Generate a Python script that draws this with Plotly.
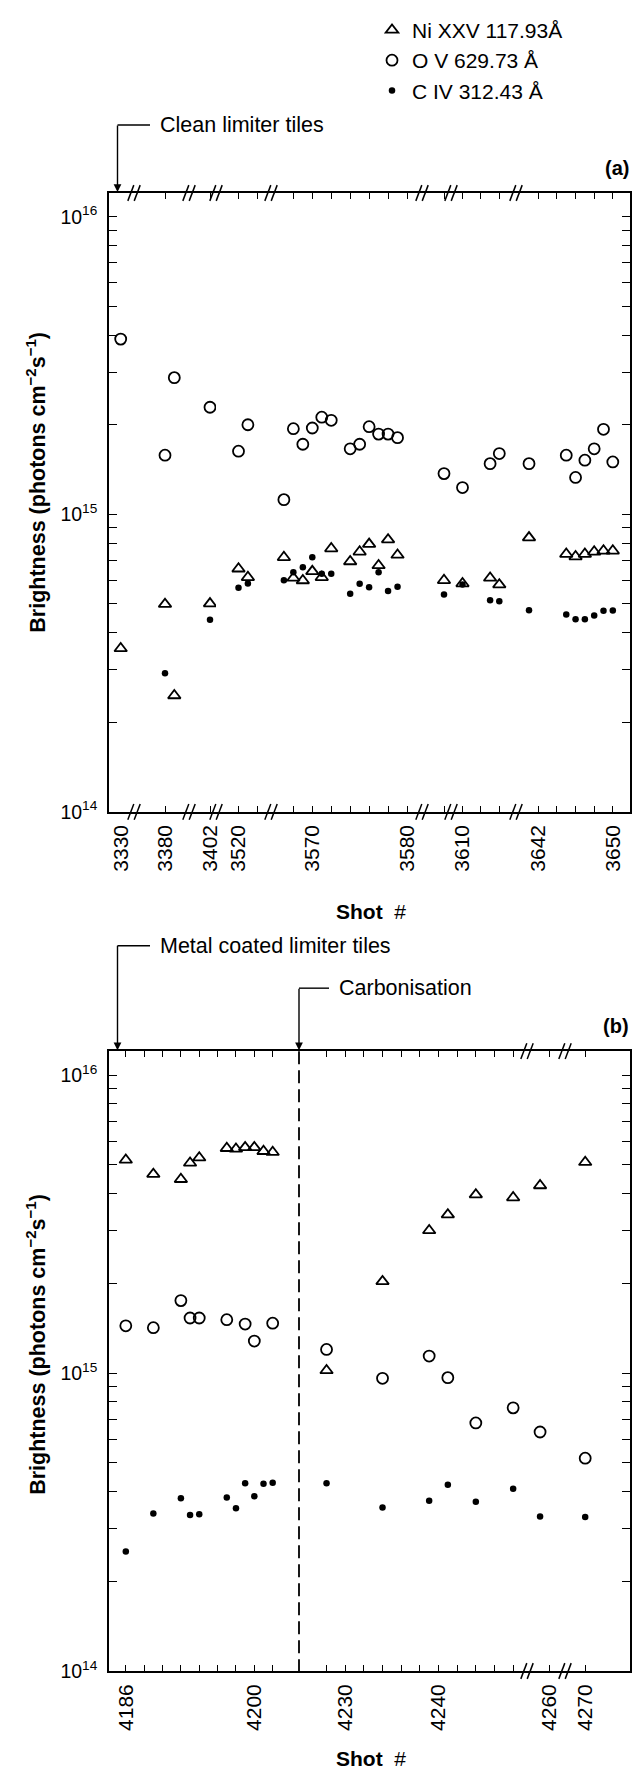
import plotly.graph_objects as go

# ---------------- data ----------------
# Panel (a): clean limiter tiles
shots_a = [3330, 3380, 3381, 3402, 3520, 3521, 3567, 3568, 3569, 3570, 3571, 3572,
           3574, 3575, 3576, 3577, 3578, 3579, 3600, 3610, 3613, 3614,
           3641, 3645, 3646, 3647, 3648, 3649, 3650]
ni_a = [3.54e14, 4.99e14, 2.46e14, 5.01e14, 6.56e14, 6.14e14, 7.17e14, 6.11e14, 5.99e14, 6.43e14, 6.14e14, 7.67e14,
        6.94e14, 7.48e14, 7.94e14, 6.73e14, 8.22e14, 7.30e14, 6.00e14, 5.85e14, 6.11e14, 5.80e14,
        8.35e14, 7.35e14, 7.21e14, 7.35e14, 7.48e14, 7.54e14, 7.54e14]
ov_a = [3.88e15, 1.58e15, 2.88e15, 2.29e15, 1.63e15, 2.00e15, 1.12e15, 1.94e15, 1.72e15, 1.95e15, 2.12e15, 2.07e15,
        1.66e15, 1.72e15, 1.97e15, 1.86e15, 1.86e15, 1.81e15, 1.37e15, 1.23e15, 1.48e15, 1.60e15,
        1.48e15, 1.58e15, 1.33e15, 1.52e15, 1.66e15, 1.93e15, 1.50e15]
civ_a = [None, 2.92e14, None, 4.42e14, 5.66e14, 5.85e14, 6.00e14, 6.38e14, 6.64e14, 7.17e14, 6.31e14, 6.31e14,
         5.41e14, 5.84e14, 5.69e14, 6.38e14, 5.52e14, 5.71e14, 5.38e14, 5.81e14, 5.14e14, 5.10e14,
         4.76e14, 4.60e14, 4.44e14, 4.44e14, 4.57e14, 4.74e14, 4.75e14]

# Panel (b): metal coated limiter tiles, then carbonisation
shots_b = [4186, 4189, 4192, 4193, 4194, 4197, 4198, 4199, 4200, 4201, 4202,
           4228, 4234, 4239, 4241, 4244, 4248, 4259, 4270]
ni_b = [5.19e15, 4.65e15, 4.47e15, 5.07e15, 5.28e15, 5.68e15, 5.65e15, 5.72e15, 5.72e15, 5.55e15, 5.51e15,
        1.02e15, 2.03e15, 3.01e15, 3.40e15, 3.97e15, 3.88e15, 4.26e15, 5.10e15]
ov_b = [1.44e15, 1.42e15, 1.75e15, 1.53e15, 1.53e15, 1.51e15, None, 1.46e15, 1.28e15, None, 1.47e15,
        1.20e15, 9.6e14, 1.14e15, 9.65e14, 6.8e14, 7.64e14, 6.34e14, 5.18e14]
civ_b = [2.52e14, 3.38e14, 3.80e14, 3.34e14, 3.36e14, 3.82e14, 3.52e14, 4.27e14, 3.86e14, 4.25e14, 4.28e14,
         4.27e14, 3.54e14, 3.73e14, 4.22e14, 3.70e14, 4.09e14, 3.30e14, 3.29e14]

series_names = ["Ni XXV 117.93Å", "O V 629.73 Å", "C IV 312.43 Å"]

# tick values / labels of each broken-axis segment
ticks_a = [[3330], [3380], [3402], [3520, 3522], [3568, 3570, 3572, 3574, 3576, 3578, 3580],
           [3600], [3610, 3612, 3614], [3642, 3644, 3646, 3648, 3650]]
labels_a = [["3330"], ["3380"], ["3402"], ["3520", ""], ["", "3570", "", "", "", "", "3580"],
            [""], ["3610", "", ""], ["3642", "", "", "", "3650"]]
ticks_b = [[4186, 4188, 4190, 4192, 4194, 4196, 4198, 4200, 4202],
           [4228, 4230, 4232, 4234, 4236, 4238, 4240, 4242, 4244, 4246, 4248],
           [4260], [4270]]
labels_b = [["4186", "", "", "", "", "", "", "4200", ""],
            ["", "4230", "", "", "", "", "4240", "", "", "", ""],
            ["4260"], ["4270"]]

y_major = [1e14, 1e15, 1e16]
y_major_text = ["10<sup>14</sup>", "10<sup>15</sup>", "10<sup>16</sup>"]

# ---------------- layout geometry (pixels) ----------------
W, H = 640, 1771
L, R, T, BOT = 109, 630, 171, 1671
PW, PH = R - L, BOT - T


def fx(px):
    return (px - L) / PW


def fy(py):
    return (BOT - py) / PH


FONT = "Liberation Sans, Arial, Helvetica, sans-serif"
LW = 1.6

# segment layout: (left px, right px, reference shot, its px, px per shot)
seg_geom_a = [(109, 134, 3330, 120.7, 9.3), (134, 189, 3380, 165, 9.3), (189, 216, 3402, 210, 9.3),
              (216, 271, 3520, 238.5, 9.4), (271, 422, 3570, 312.3, 9.47), (422, 451, 3600, 444, 9.3),
              (451, 516, 3610, 462.5, 9.2), (516, 630, 3650, 612.8, 9.31)]
seg_geom_b = [(109, 299, 4186, 125.8, 9.18), (299, 527, 4230, 345.2, 9.33),
              (527, 565, 4260, 549.4, 9.33), (565, 630, 4270, 585.2, 9.33)]
breaks_a = [134, 189, 216, 271, 422, 451, 516]
breaks_b = [527, 565]

panel_a_px = (171, 799)
panel_b_px = (1042, 1671)
YR = [14, 16.08]

fig = go.Figure()
layout = dict(
    width=W, height=H,
    margin=dict(l=L, r=W - R, t=T, b=H - BOT, pad=0),
    paper_bgcolor="white", plot_bgcolor="white",
    template="none",
    font=dict(family=FONT, size=19, color="black"),
    showlegend=True,
    legend=dict(x=fx(372), y=fy(-15), xanchor="left", yanchor="top",
                font=dict(size=21, family=FONT), traceorder="grouped", tracegroupgap=0,
                bgcolor="rgba(0,0,0,0)", itemwidth=30),
)

styles = [
    dict(symbol="triangle-up-open", size=11, color="black", line=dict(width=1.8, color="black")),
    dict(symbol="circle-open", size=11, color="black", line=dict(width=1.8, color="black")),
    dict(symbol="circle", size=6.5, color="black", line=dict(width=0)),
]
groups = ["ni", "ov", "civ"]
draw_order = [1, 0, 2]
legend_done = set()

# y tick set (minor ticks unlabeled)
yvals, ytext = [], []
for dec in (1e14, 1e15):
    for m in range(1, 10):
        yvals.append(m * dec)
        ytext.append(y_major_text[y_major.index(dec)] if m == 1 else "")
yvals.append(1e16)
ytext.append(y_major_text[2])

axis_count = [0]


def add_panel(geoms, ticks, labels, shots, series, ypx, yname_main, yname_right, no_first_tick):
    y0, y1 = fy(ypx[1]), fy(ypx[0])
    first_x = None
    last_x = None
    for i, (p0, p1, s_ref, px_ref, sc) in enumerate(geoms):
        axis_count[0] += 1
        n = axis_count[0]
        xname = "x" if n == 1 else f"x{n}"
        xkey = "xaxis" if n == 1 else f"xaxis{n}"
        if first_x is None:
            first_x = xname
        last_x = xname
        r0 = s_ref + (p0 - px_ref) / sc
        r1 = s_ref + (p1 - px_ref) / sc
        layout[xkey] = dict(
            domain=[fx(p0), fx(p1)], anchor=yname_main, range=[r0, r1],
            tickmode="array", tickvals=ticks[i], ticktext=labels[i],
            ticks="inside", ticklen=0 if (i == 0 and no_first_tick) else 6, tickwidth=1.4,
            tickcolor="black", tickangle=-90, tickfont=dict(size=21, family=FONT),
            ticklabelstandoff=3,
            showline=True, linecolor="black", linewidth=LW, mirror="ticks",
            showgrid=False, zeroline=False, automargin=False,
        )
        for k in draw_order:
            xs = [s for s, v in zip(shots, series[k]) if v is not None and r0 <= s <= r1]
            ys = [v for s, v in zip(shots, series[k]) if v is not None and r0 <= s <= r1]
            if not xs:
                continue
            show = groups[k] not in legend_done
            legend_done.add(groups[k])
            fig.add_trace(go.Scatter(
                x=xs, y=ys, mode="markers", marker=styles[k], name=series_names[k],
                legendgroup=groups[k], showlegend=show, legendrank=k + 1,
                xaxis=xname, yaxis=yname_main, hoverinfo="x+y+name"))
    ykey_main = "yaxis" if yname_main == "y" else "yaxis" + yname_main[1:]
    ykey_right = "yaxis" + yname_right[1:]
    common_y = dict(type="log", range=YR, tickmode="array", tickvals=yvals, ticktext=ytext,
                    ticks="inside", ticklen=8, tickwidth=1.4, tickcolor="black",
                    showline=True, linecolor="black", linewidth=LW,
                    showgrid=False, zeroline=False, automargin=False)
    layout[ykey_main] = dict(common_y, domain=[y0, y1], anchor=first_x, side="left",
                             tickfont=dict(size=19.5, family=FONT), ticklabelstandoff=6)
    layout[ykey_right] = dict(common_y, overlaying=yname_main, anchor=last_x, side="right",
                              showticklabels=False)
    fig.add_trace(go.Scatter(x=[], y=[], xaxis=last_x, yaxis=yname_right, showlegend=False,
                             hoverinfo="skip"))


add_panel(seg_geom_a, ticks_a, labels_a, shots_a, [ni_a, ov_a, civ_a], panel_a_px, "y", "y2", True)
add_panel(seg_geom_b, ticks_b, labels_b, shots_b, [ni_b, ov_b, civ_b], panel_b_px, "y3", "y4", False)

# ---------------- decorations ----------------
shapes = []
annotations = []


def line(x0, y0, x1, y1, width=1.5, dash=None):
    d = dict(type="line", xref="paper", yref="paper", x0=fx(x0), y0=fy(y0), x1=fx(x1), y1=fy(y1),
             line=dict(color="black", width=width))
    if dash:
        d["line"]["dash"] = dash
    shapes.append(d)


def axis_break(bx, by):
    for off in (-3.2, 3.2):
        line(bx + off - 3, by + 8, bx + off + 3, by - 8, width=1.5)


for bx in breaks_a:
    axis_break(bx, panel_a_px[0])
    axis_break(bx, panel_a_px[1])
for bx in breaks_b:
    axis_break(bx, panel_b_px[0])
    axis_break(bx, panel_b_px[1])

# carbonisation dashed line
line(299, panel_b_px[0], 299, panel_b_px[1], width=1.8, dash="13px,6px")


def bracket_arrow(xv, ytxt, ytip, xtext, text):
    line(xv, ytxt, xtext - 8, ytxt, width=1.4)
    annotations.append(dict(xref="paper", yref="paper", x=fx(xv), y=fy(ytip), ax=0, ay=-(ytip - ytxt),
                            axref="pixel", ayref="pixel", text="", showarrow=True,
                            arrowhead=2, arrowsize=1.1, arrowwidth=1.4, arrowcolor="black", standoff=0))
    annotations.append(dict(xref="paper", yref="paper", x=fx(xtext), y=fy(ytxt), xanchor="left",
                            yanchor="middle", text=text, showarrow=False,
                            font=dict(size=21.5, family=FONT)))


bracket_arrow(117.5, 102, 170, 158, "Clean limiter tiles")
bracket_arrow(117.5, 935, 1041, 158, "Metal coated limiter tiles")
bracket_arrow(299, 978, 1041, 337, "Carbonisation")

for txt, yy in (("<b>(a)</b>", 146), ("<b>(b)</b>", 1016)):
    annotations.append(dict(xref="paper", yref="paper", x=fx(631), y=fy(yy), xanchor="right",
                            yanchor="middle", text=txt, showarrow=False, font=dict(size=20, family=FONT)))
for yy in (900, 1760):
    annotations.append(dict(xref="paper", yref="paper", x=fx(371), y=fy(yy), xanchor="center",
                            yanchor="middle", text="<b>Shot</b>  #", showarrow=False,
                            font=dict(size=21, family=FONT)))
# y-axis titles
for yy in (465, 1340):
    annotations.append(dict(xref="paper", yref="paper", x=fx(36), y=fy(yy), xanchor="center",
                            yanchor="middle", textangle=-90,
                            text="<b>Brightness (photons cm<sup>−2</sup>s<sup>−1</sup>)</b>",
                            showarrow=False, font=dict(size=21.5, family=FONT)))

layout["shapes"] = shapes
layout["annotations"] = annotations
fig.update_layout(**layout)
fig.write_html("out.html")
